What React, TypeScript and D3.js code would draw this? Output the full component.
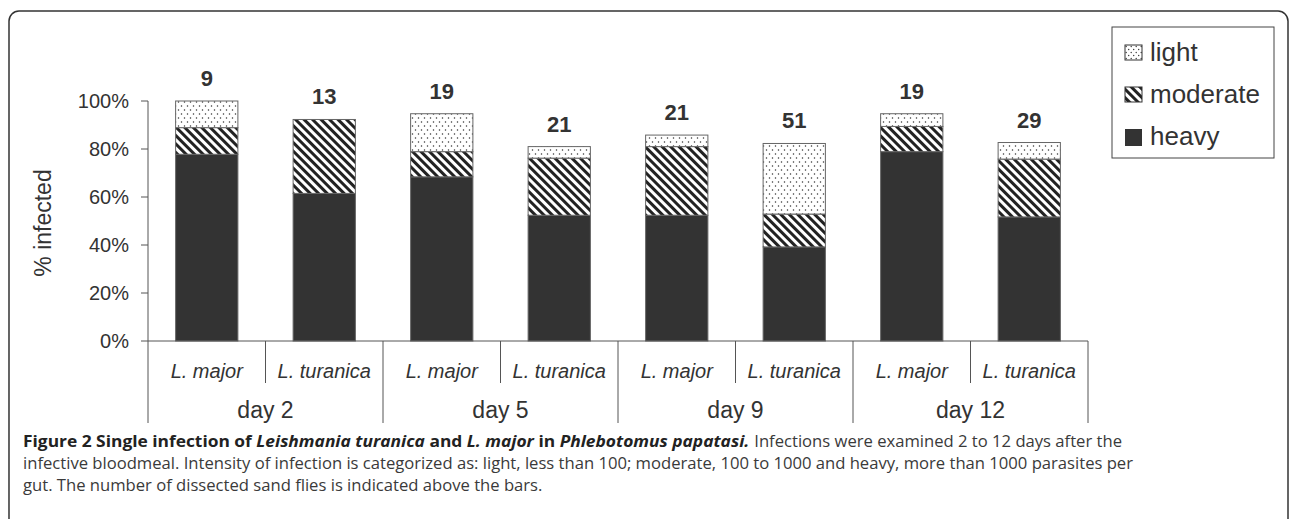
import React, { useLayoutEffect, useRef, useState } from "react";
import * as d3 from "d3";

const species = ["L. major", "L. turanica", "L. major", "L. turanica", "L. major", "L. turanica", "L. major", "L. turanica"];
const days = ["day 2", "day 5", "day 9", "day 12"];
const heavy = [77.8, 61.5, 68.4, 52.4, 52.4, 39.2, 78.9, 51.7];
const moderate = [11.1, 30.8, 10.5, 23.8, 28.6, 13.7, 10.5, 24.1];
const light = [11.1, 0, 15.8, 4.8, 4.8, 29.4, 5.3, 6.9];
const counts = [9, 13, 19, 21, 21, 51, 19, 29];
const yTicks = [0, 20, 40, 60, 80, 100];
const seriesKeys = ["heavy", "moderate", "light"];
const legendOrder = ["light", "moderate", "heavy"];

const caption1b = "Infections were examined 2 to 12 days after the";
const caption2 =
  "infective bloodmeal. Intensity of infection is categorized as: light, less than 100; moderate, 100 to 1000 and heavy, more than 1000 parasites per";
const caption3 = "gut. The number of dissected sand flies is indicated above the bars.";

const W = 1290;
const H = 519;
const FONT = "'Liberation Sans', Arial, Helvetica, sans-serif";
const CAPFONT = "'Open Sans', 'Noto Sans', sans-serif";
const TEXT = "#333";
const AXIS = "#555";

const fills: Record<string, string> = {
  heavy: "#333333",
  moderate: "url(#stripes)",
  light: "url(#dots)",
};

export default function App() {
  const rows = species.map((s, i) => ({ i, heavy: heavy[i], moderate: moderate[i], light: light[i] }));
  const stack = d3.stack<any>().keys(seriesKeys)(rows);

  const x = d3.scaleBand<number>().domain(d3.range(species.length)).range([148, 1088]).padding(0);
  const y = d3.scaleLinear().domain([0, 100]).range([341, 101]);
  const bw = x.bandwidth() * 0.53;
  const dayBand = d3.scaleBand<number>().domain(d3.range(days.length)).range([148, 1088]).padding(0);

  const totals = rows.map((r) => r.heavy + r.moderate + r.light);
  const legendItems = legendOrder.map((k, j) => ({ k, j }));

  const m1 = useRef<SVGTextElement>(null);
  const m2 = useRef<SVGTextElement>(null);
  const m3 = useRef<SVGTextElement>(null);
  const [lens, setLens] = useState<{ l1: number; l3: number } | null>(null);
  const target2 = 1110;
  const lineEnd1 = 1122;
  useLayoutEffect(() => {
    if (m1.current && m2.current && m3.current) {
      const n1 = m1.current.getComputedTextLength();
      const n2 = m2.current.getComputedTextLength();
      const n3 = m3.current.getComputedTextLength();
      if (n2 > 0) setLens({ l1: (n1 * target2) / n2, l3: (n3 * target2) / n2 });
    }
  }, []);

  const l1 = lens ? lens.l1 : 360;
  const start1b = lineEnd1 - l1;

  return (
    <svg width={W} height={H} style={{ position: "absolute", left: 0, top: 0, background: "white" }}>
      <defs>
        <pattern id="dots" width={6} height={8} patternUnits="userSpaceOnUse">
          <rect width={6} height={8} fill="white" />
          <circle cx={1.5} cy={2} r={0.75} fill="#333" />
          <circle cx={4.5} cy={6} r={0.75} fill="#333" />
        </pattern>
        <pattern id="stripes" width={6} height={6} patternUnits="userSpaceOnUse" patternTransform="rotate(45)">
          <rect width={6} height={6} fill="white" />
          <rect width={6} height={3} fill="#222" />
        </pattern>
        <pattern id="dotsL" width={5} height={6} patternUnits="userSpaceOnUse">
          <rect width={5} height={6} fill="white" />
          <circle cx={1.2} cy={1.5} r={0.7} fill="#333" />
          <circle cx={3.7} cy={4.5} r={0.7} fill="#333" />
        </pattern>
      </defs>

      {/* frame */}
      <rect x={9} y={11} width={1279} height={560} rx={10} ry={10} fill="none" stroke="#333" strokeWidth={1.5} />

      {/* bars */}
      {stack.map((layer) => (
        <g key={layer.key}>
          {layer.map((d, i) =>
            d[1] - d[0] > 0 ? (
              <rect
                key={i}
                x={(x(i) as number) + (x.bandwidth() - bw) / 2}
                y={y(d[1])}
                width={bw}
                height={y(d[0]) - y(d[1])}
                fill={fills[layer.key as string]}
                stroke="#666"
                strokeWidth={1}
              />
            ) : null
          )}
        </g>
      ))}

      {/* count labels */}
      {counts.map((c, i) => (
        <text
          key={i}
          x={(x(i) as number) + x.bandwidth() / 2}
          y={y(totals[i]) - 15}
          textAnchor="middle"
          fontFamily={FONT}
          fontWeight="bold"
          fontSize={22}
          fill={TEXT}
        >
          {c}
        </text>
      ))}

      {/* y axis */}
      <line x1={148} x2={148} y1={y(100)} y2={y(0)} stroke={AXIS} strokeWidth={1} />
      {yTicks.map((t) => (
        <g key={t}>
          <line x1={141} x2={148} y1={y(t)} y2={y(t)} stroke={AXIS} strokeWidth={1} />
          <text x={129} y={y(t)} dy="0.35em" textAnchor="end" fontFamily={FONT} fontSize={20} fill={TEXT}>
            {t}%
          </text>
        </g>
      ))}
      <text
        transform={`translate(51, ${(y(0) + y(100)) / 2 + 2}) rotate(-90)`}
        textAnchor="middle"
        fontFamily={FONT}
        fontSize={23}
        fill={TEXT}
      >
        % infected
      </text>

      {/* x axis */}
      <line x1={148} x2={1088} y1={y(0)} y2={y(0)} stroke={AXIS} strokeWidth={1} />
      {d3.range(species.length + 1).map((k) => {
        const xx = 148 + k * x.bandwidth();
        const major = k % 2 === 0;
        return <line key={k} x1={xx} x2={xx} y1={y(0)} y2={major ? 423 : 383} stroke={AXIS} strokeWidth={1} />;
      })}
      {species.map((s, i) => (
        <text
          key={i}
          x={(x(i) as number) + x.bandwidth() / 2}
          y={378}
          textAnchor="middle"
          fontFamily={FONT}
          fontStyle="italic"
          fontSize={20}
          fill={TEXT}
        >
          {s}
        </text>
      ))}
      {days.map((d, i) => (
        <text
          key={d}
          x={(dayBand(i) as number) + dayBand.bandwidth() / 2}
          y={418}
          textAnchor="middle"
          fontFamily={FONT}
          fontSize={23}
          fill={TEXT}
        >
          {d}
        </text>
      ))}

      {/* legend */}
      <rect x={1112} y={27} width={162} height={131} fill="white" stroke="#444" strokeWidth={1} />
      {legendItems.map(({ k, j }) => (
        <g key={k} transform={`translate(1125, ${45 + j * 42})`}>
          <rect
            width={17}
            height={k === "heavy" ? 17 : 15}
            fill={k === "light" ? "url(#dotsL)" : fills[k]}
            stroke={k === "heavy" ? "none" : "#333"}
            strokeWidth={1}
          />
          <text x={25} y={16} fontFamily={FONT} fontSize={26} fill={TEXT}>
            {k}
          </text>
        </g>
      ))}

      {/* hidden measuring texts */}
      <g visibility="hidden">
        <text ref={m1} x={0} y={-100} fontFamily={CAPFONT} fontSize={16}>{caption1b}</text>
        <text ref={m2} x={0} y={-100} fontFamily={CAPFONT} fontSize={16}>{caption2}</text>
        <text ref={m3} x={0} y={-100} fontFamily={CAPFONT} fontSize={16}>{caption3}</text>
      </g>

      {/* caption */}
      <text
        x={23}
        y={447}
        fontFamily={CAPFONT}
        fontSize={16}
        fontWeight="bold"
        fill="#222"
        textLength={start1b - 5 - 23}
        lengthAdjust="spacingAndGlyphs"
      >
        <tspan>Figure 2 Single infection of </tspan>
        <tspan fontStyle="italic">Leishmania turanica</tspan>
        <tspan> and </tspan>
        <tspan fontStyle="italic">L. major</tspan>
        <tspan> in </tspan>
        <tspan fontStyle="italic">Phlebotomus papatasi.</tspan>
      </text>
      <text x={start1b} y={447} fontFamily={CAPFONT} fontSize={16} fill="#3a3a3a" textLength={l1} lengthAdjust="spacingAndGlyphs">
        {caption1b}
      </text>
      <text x={23} y={469} fontFamily={CAPFONT} fontSize={16} fill="#3a3a3a" textLength={target2} lengthAdjust="spacingAndGlyphs">
        {caption2}
      </text>
      <text
        x={23}
        y={491}
        fontFamily={CAPFONT}
        fontSize={16}
        fill="#3a3a3a"
        {...(lens ? { textLength: lens.l3, lengthAdjust: "spacingAndGlyphs" } : {})}
      >
        {caption3}
      </text>
    </svg>
  );
}
